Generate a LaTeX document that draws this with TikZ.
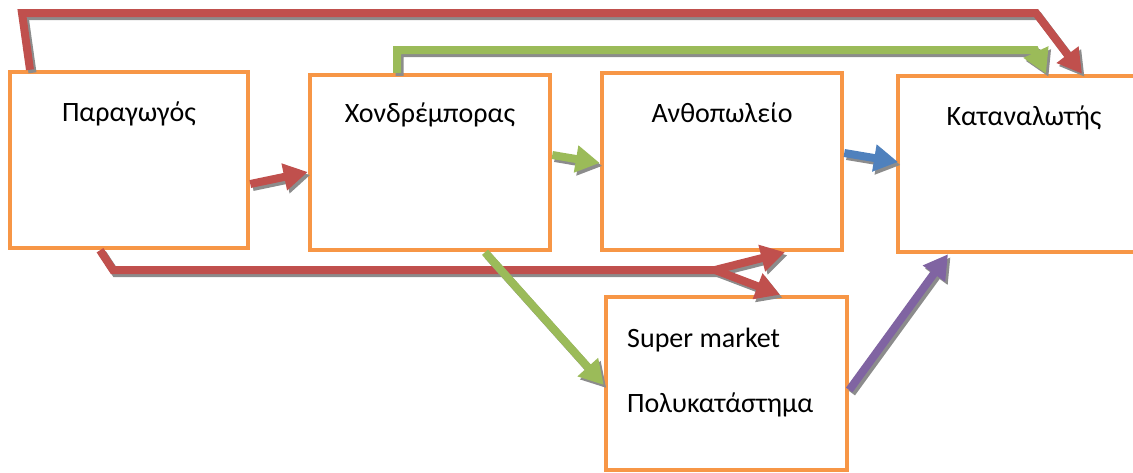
\documentclass[tikz,border=0pt]{standalone}
\usepackage{fontspec}
\setmainfont{Carlito}
\usetikzlibrary{arrows.meta}
\definecolor{boxor}{HTML}{F79646}
\definecolor{ared}{HTML}{C0504D}
\definecolor{agreen}{HTML}{9BBB59}
\definecolor{ablue}{HTML}{4F81BD}
\definecolor{apurple}{HTML}{8064A2}
\tikzset{
  box/.style={draw=boxor, line width=4.5pt, inner sep=0pt},
  boxline/.style={draw=boxor, line width=4.5pt},
  lbl/.style={font=\fontsize{28}{32}\selectfont, anchor=base, inner sep=0pt},
  conn/.style={line width=8pt, -{Triangle[length=24pt,width=26pt]}},
  shadowline/.style={conn, draw=black!45, transform canvas={shift={(2.5pt,-3pt)}}},
}
\newcommand\arrowconn[2]{\draw[shadowline] #2; \draw[conn, draw=#1] #2;}
\begin{document}
\begin{tikzpicture}[x=1pt,y=-1pt]
\path[use as bounding box] (0,0) rectangle (1133,472);
\begin{scope}
\clip (0,0) rectangle (1133,472);
% boxes
\node[box, minimum width=238pt, minimum height=176pt] (p) at (129,160) {};
\node[box, minimum width=240pt, minimum height=175pt] (w) at (430,162.5) {};
\node[box, minimum width=240pt, minimum height=177pt] (a) at (722,161.5) {};
\node[inner sep=0pt, outer sep=2.25pt, minimum width=260pt, minimum height=176pt, anchor=west] (k) at (898,164) {};
\draw[boxline] (1160,76) -- (898,76) -- (898,252) -- (1160,252);
\node[box, minimum width=241pt, minimum height=173pt] (s) at (726.5,383.5) {};
% texts
\node[lbl] (pt) at (129,121) {Παραγωγός};
\node[lbl] (wt) at (430,122) {Χονδρέμπορας};
\node[lbl] (at) at (722,122) {Ανθοπωλείο};
\node[lbl] (kt) at (1024,125) {Καταναλωτής};
\node[lbl, anchor=base west] (st1) at (627,347) {Super market};
\node[lbl, anchor=base west] (st2) at (627,412) {Πολυκατάστημα};
% connectors
\arrowconn{ared}{(30,0 |- p.north) -- (22,13) -- (1036,13) -- (1082,0 |- k.north)}
\arrowconn{agreen}{(397,0 |- w.north) -- (397,50) -- (1035,50) -- (1046,0 |- k.north)}
\arrowconn{ared}{(p.east |- 0,184) -- (w.west |- 0,172)}
\arrowconn{agreen}{(w.east |- 0,155) -- (a.west |- 0,163)}
\arrowconn{ablue}{(a.east |- 0,153) -- (k.west |- 0,162)}
\coordinate (fork) at (715,270);
\arrowconn{ared}{(100,0 |- p.south) -- (113,270) -- (fork) -- (785,0 |- a.south)}
\arrowconn{ared}{(fork) -- (780,0 |- s.north)}
\arrowconn{agreen}{(485,0 |- w.south) -- (s.west |- 0,385)}
\arrowconn{apurple}{(s.east |- 0,390) -- (948,0 |- k.south)}
\end{scope}
\end{tikzpicture}
\end{document}
